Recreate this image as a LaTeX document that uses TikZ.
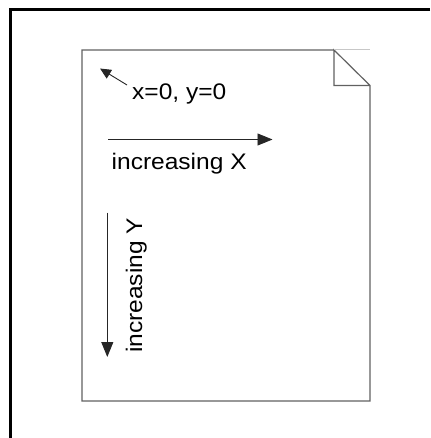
\documentclass[tikz,border=0pt]{standalone}
\usepackage{fontspec}
\setmainfont[FakeStretch=1.09]{Liberation Sans}
\usetikzlibrary{arrows.meta}
\tikzset{
  pageline/.style={draw=black!62, line width=1.2pt},
  arr/.style={draw=black!85, line width=0.9pt, -{Triangle[length=15pt,width=12pt]}},
  smallarr/.style={draw=black!85, line width=0.9pt, -{Triangle[length=11pt,width=10pt]}},
  lbl/.style={inner sep=0pt, font=\fontsize{22.5}{26}\selectfont}
}
\begin{document}
\begin{tikzpicture}[x=1pt,y=-1pt]
\useasboundingbox (0,0) rectangle (430,438);
% outer frame (only top and left visible)
\draw[black, line width=3pt] (430,9.5) -- (10,9.5) -- (10,438);
% page with folded corner
\draw[pageline] (334,50) -- (82,50) -- (82,401) -- (370,401) -- (370,85.5) -- (334,50) -- (334,85.5) -- (370,85.5);
\draw[black!22, line width=1pt] (334,50) -- (370,50);
% origin
\coordinate (otail) at (127,85);
\coordinate (otip) at (100,68.5);
\draw[smallarr] (otail) -- (otip);
\node[lbl, anchor=base west] (orig) at (132,99.5) {x=0, y=0};
% x direction
\coordinate (xs) at (108,139.5);
\coordinate (xe) at (272.5,139.5);
\draw[arr] (xs) -- (xe);
\node[lbl, anchor=base west] (incx) at (111.5,170) {increasing X};
% y direction
\coordinate (ys) at (107.3,212.5);
\coordinate (ye) at (107.3,357);
\draw[arr] (ys) -- (ye);
\node[lbl, anchor=base west, rotate=90] (incy) at (142,353) {increasing Y};
\end{tikzpicture}
\end{document}
